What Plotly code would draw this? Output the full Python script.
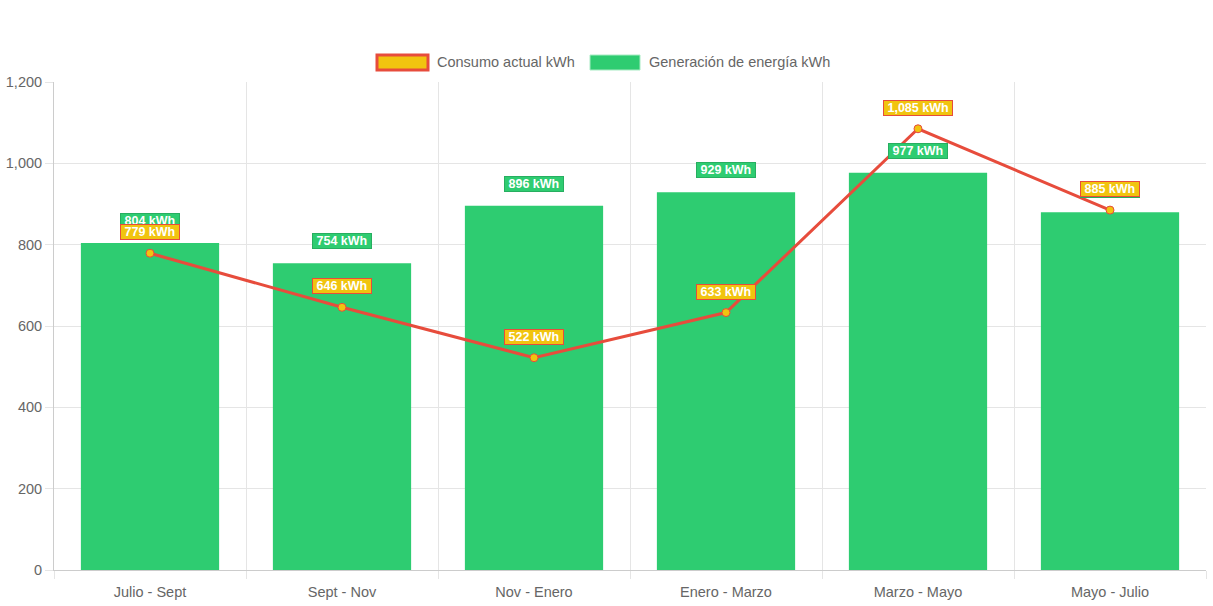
import plotly.graph_objects as go

categories = ["Julio - Sept", "Sept - Nov", "Nov - Enero", "Enero - Marzo", "Marzo - Mayo", "Mayo - Julio"]
consumo = [779, 646, 522, 633, 1085, 885]
generacion = [804, 754, 896, 929, 977, 880]
y_ticks = [0, 200, 400, 600, 800, 1000, 1200]
series_names = ["Consumo actual kWh", "Generación de energía kWh"]

GREEN = "#2ecc71"
GREEN_DARK = "#27ae60"
YELLOW = "#f1c40f"
RED = "#e74c3c"
FONT = "Liberation Sans, Arial, sans-serif"
W, H = 1213, 606
ML, MR, MT, MB = 54, 7, 82, 36
PW, PH = W - ML - MR, H - MT - MB


def px_x(p):
    return (p - ML) / PW


def px_y(p):
    return (H - MB - p) / PH


xpos = list(range(len(categories)))

fig = go.Figure()
fig.add_trace(go.Bar(
    x=xpos, y=generacion, name=series_names[1],
    marker=dict(color=GREEN, line=dict(width=0)),
    showlegend=False, hoverinfo="y",
))
fig.add_trace(go.Scatter(
    x=xpos, y=consumo, name=series_names[0], mode="lines+markers",
    line=dict(color=RED, width=3),
    marker=dict(color=YELLOW, size=8, line=dict(color=RED, width=1)),
    showlegend=False,
))

annotations = []
for x, v in zip(xpos, generacion):
    annotations.append(dict(
        x=x, y=v, xref="x", yref="y", text=f"&nbsp;<b>{v:,} kWh</b>&nbsp;", showarrow=False,
        yshift=22, font=dict(color="white", size=12.5, family=FONT),
        bgcolor=GREEN, bordercolor=GREEN_DARK, borderwidth=1, borderpad=0,
    ))
for x, v in zip(xpos, consumo):
    annotations.append(dict(
        x=x, y=v, xref="x", yref="y", text=f"&nbsp;<b>{v:,} kWh</b>&nbsp;", showarrow=False,
        yshift=21, font=dict(color="white", size=12.5, family=FONT),
        bgcolor=YELLOW, bordercolor=RED, borderwidth=1, borderpad=0,
    ))

# custom legend (Chart.js-like wide boxes)
shapes = [
    dict(type="rect", xref="paper", yref="paper",
         x0=px_x(377), x1=px_x(428), y0=px_y(70), y1=px_y(55),
         fillcolor=YELLOW, line=dict(color=RED, width=3), layer="above"),
    dict(type="rect", xref="paper", yref="paper",
         x0=px_x(590), x1=px_x(640), y0=px_y(70), y1=px_y(55),
         fillcolor=GREEN, line=dict(color="#a8ebc4", width=1), layer="above"),
]
annotations.append(dict(xref="paper", yref="paper", x=px_x(435), y=px_y(62.5),
                        xanchor="left", yanchor="middle", showarrow=False,
                        text=series_names[0], font=dict(size=14.5, color="#666666", family=FONT)))
annotations.append(dict(xref="paper", yref="paper", x=px_x(647), y=px_y(62.5),
                        xanchor="left", yanchor="middle", showarrow=False,
                        text=series_names[1], font=dict(size=14.5, color="#666666", family=FONT)))

n = len(categories)
boundaries = [i - 0.5 for i in range(n + 1)]

fig.update_layout(
    width=W, height=H,
    margin=dict(l=ML, r=MR, t=MT, b=MB, autoexpand=False),
    paper_bgcolor="white", plot_bgcolor="white",
    font=dict(family=FONT, size=14.5, color="#666666"),
    barmode="overlay", bargap=0.28,
    showlegend=False,
    annotations=annotations,
    shapes=shapes,
    xaxis=dict(
        range=[-0.5, n - 0.5], tickmode="array", tickvals=xpos, ticktext=categories,
        showgrid=False, ticks="", zeroline=False, ticklabelstandoff=9,
        showline=True, linecolor="#cccccc", linewidth=1,
        minor=dict(tickmode="array", tickvals=boundaries, showgrid=True,
                   gridcolor="#e5e5e5", gridwidth=1, ticks="outside",
                   ticklen=8, tickcolor="#e5e5e5"),
        tickfont=dict(size=14.5, color="#666666"),
    ),
    yaxis=dict(
        range=[0, 1200], tickmode="array", tickvals=y_ticks, tickformat=",",
        showgrid=True, gridcolor="#e5e5e5", gridwidth=1,
        zeroline=True, zerolinecolor="#cccccc", zerolinewidth=1,
        showline=True, linecolor="#cccccc", linewidth=1,
        ticks="outside", ticklen=8, tickcolor="#e5e5e5",
        tickfont=dict(size=14.5, color="#666666"),
    ),
)

fig.write_html("out.html", config={"displayModeBar": False},
               post_script="document.body.style.margin='0';")
